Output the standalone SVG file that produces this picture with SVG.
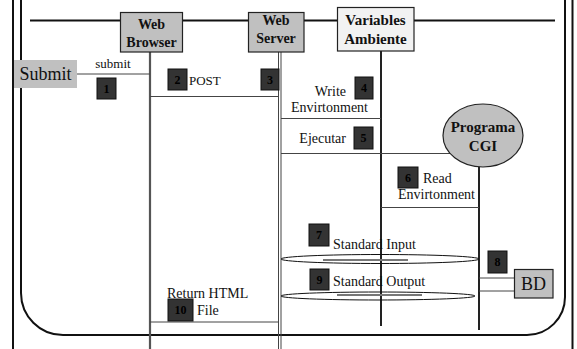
<svg xmlns="http://www.w3.org/2000/svg" width="577" height="349" viewBox="0 0 577 349">
<style>
.frame{fill:none;stroke:#111;stroke-width:2}
.node{stroke:#222;stroke-width:1.2}
.gray{fill:#c0c0c0}
.light{fill:#f2f2f2}
.nt{font-family:"Liberation Serif",serif;font-weight:bold;font-size:14px;fill:#111;text-anchor:middle}
.t{font-family:"Liberation Serif",serif;font-size:14px;fill:#111}
.msg{stroke:#444;stroke-width:1;fill:none}
.life{stroke:#222;stroke-width:2;fill:none}
.num rect{fill:#333;stroke:#111;stroke-width:1}
.num text{font-family:"Liberation Serif",serif;font-weight:bold;font-size:12px;fill:#000;text-anchor:middle}
</style>
<rect width="577" height="349" fill="#fff"/>
<g id="frame">
<line class="frame" x1="13" y1="0" x2="13" y2="349"/>
<line class="frame" x1="572.5" y1="0" x2="572.5" y2="349"/>
<path class="frame" d="M21 0 V293 A42 42 0 0 0 63 335 H527 A38 38 0 0 0 565 297 V0" stroke="#222"/>
<line class="frame" x1="30" y1="20.5" x2="555" y2="20.5"/>
</g>
<g id="connectors">
<line x1="150" y1="52" x2="150" y2="349" stroke="#555" stroke-width="2.2"/>
<line class="msg" x1="278.5" y1="52" x2="278.5" y2="349"/>
<line class="msg" x1="281" y1="52" x2="281" y2="349"/>
<line class="life" x1="381" y1="51" x2="381" y2="326"/>
<line class="life" x1="479" y1="167" x2="479" y2="330"/>
<line class="msg" x1="77" y1="74" x2="150" y2="74"/>
<line class="msg" x1="150" y1="96.5" x2="279" y2="96.5"/>
<line class="msg" x1="281" y1="118.5" x2="381" y2="118.5"/>
<line class="msg" x1="281" y1="153.5" x2="458" y2="153.5"/>
<line class="msg" x1="381" y1="207.5" x2="479" y2="207.5"/>
<line class="msg" x1="150" y1="322" x2="279" y2="322"/>
<line class="msg" x1="479" y1="278" x2="514" y2="278"/>
<line class="msg" x1="479" y1="291" x2="514" y2="291"/>
<ellipse cx="380" cy="259" rx="99" ry="4.5" fill="none" stroke="#111" stroke-width="1"/>
<line x1="323" y1="260" x2="408" y2="260" stroke="#777" stroke-width="2"/>
<ellipse cx="378" cy="296" rx="97" ry="4" fill="none" stroke="#111" stroke-width="1"/>
<line x1="337" y1="295" x2="422" y2="295" stroke="#777" stroke-width="2"/>
</g>
<g id="web-browser">
<rect class="node gray" x="120.5" y="12.5" width="62" height="39.5"/>
<text class="nt" x="151.5" y="29">Web</text>
<text class="nt" x="151.5" y="47">Browser</text>
</g>
<g id="web-server">
<rect class="node gray" x="248.5" y="12.5" width="55.5" height="39.5"/>
<text class="nt" x="276" y="25">Web</text>
<text class="nt" x="276" y="43">Server</text>
</g>
<g id="variables-ambiente">
<rect class="node light" x="337.5" y="7.5" width="76.5" height="43.5"/>
<text class="nt" x="375.5" y="25" style="font-size:15px">Variables</text>
<text class="nt" x="375.5" y="44" style="font-size:15px">Ambiente</text>
</g>
<g id="programa-cgi">
<ellipse class="node gray" cx="483" cy="135.5" rx="40" ry="31.5"/>
<text class="nt" x="483" y="132" style="font-size:15px">Programa</text>
<text class="nt" x="483" y="151" style="font-size:15px">CGI</text>
</g>
<g id="submit">
<rect class="gray" x="14" y="60" width="63" height="28"/>
<text class="t" x="45.5" y="80" text-anchor="middle" style="font-size:18px">Submit</text>
</g>
<g id="bd">
<rect class="node gray" x="514.5" y="269.5" width="38.5" height="28.5"/>
<text class="t" x="533.5" y="290" text-anchor="middle" style="font-size:18px">BD</text>
</g>
<g id="labels">
<text class="t" x="113" y="68" text-anchor="middle" style="font-size:13px">submit</text>
<text class="t" x="189" y="85" style="font-size:13px">POST</text>
<text class="t" x="346" y="96" text-anchor="end">Write</text>
<text class="t" x="368" y="112" text-anchor="end">Envirtonment</text>
<text class="t" x="346" y="143" text-anchor="end">Ejecutar</text>
<text class="t" x="423" y="183">Read</text>
<text class="t" x="398" y="199">Envirtonment</text>
<text class="t" x="333" y="249">Standard Input</text>
<text class="t" x="333" y="286">Standard Output</text>
<text class="t" x="167" y="298">Return HTML</text>
<text class="t" x="197" y="315">File</text>
</g>
<g id="steps">
<g class="num"><rect x="97" y="78" width="19" height="21"/><text x="106.5" y="93">1</text></g>
<g class="num"><rect x="168" y="69" width="19" height="21"/><text x="177.5" y="84">2</text></g>
<g class="num"><rect x="261" y="69" width="18" height="21"/><text x="270" y="84">3</text></g>
<g class="num"><rect x="355" y="77" width="18" height="22"/><text x="364" y="92">4</text></g>
<g class="num"><rect x="354" y="127" width="19" height="22"/><text x="363.5" y="142">5</text></g>
<g class="num"><rect x="398" y="167" width="20" height="21"/><text x="408" y="182">6</text></g>
<g class="num"><rect x="309" y="224" width="20" height="22"/><text x="319" y="239">7</text></g>
<g class="num"><rect x="488" y="251" width="19" height="22"/><text x="497.5" y="266">8</text></g>
<g class="num"><rect x="310" y="269" width="19" height="21"/><text x="319.5" y="284">9</text></g>
<g class="num"><rect x="168" y="299" width="25" height="22"/><text x="180.5" y="314">10</text></g>
</g>
</svg>
